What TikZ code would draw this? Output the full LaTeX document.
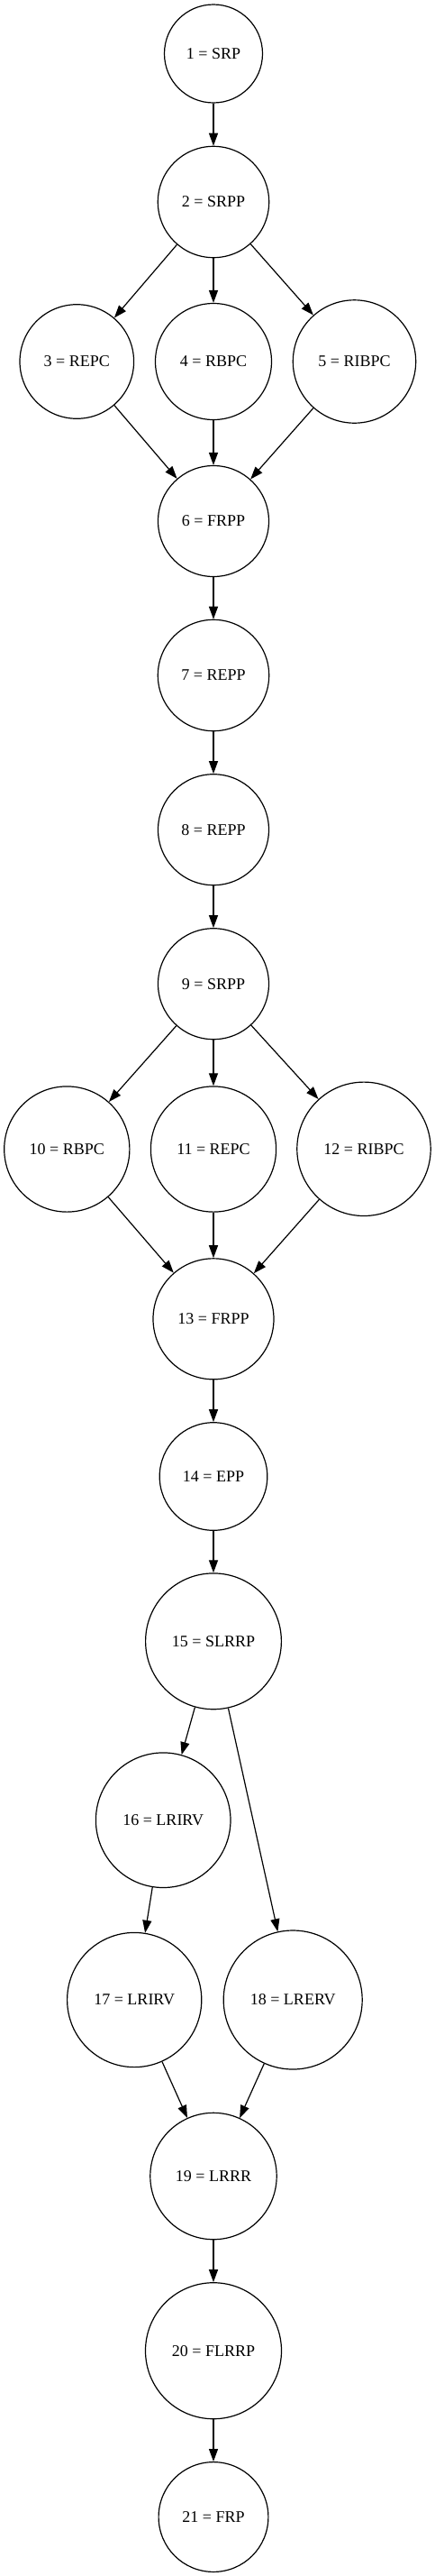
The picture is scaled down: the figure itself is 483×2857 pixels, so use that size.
\documentclass[tikz,border=0pt]{standalone}
\usepackage{fontspec}
\setmainfont{Liberation Serif}
\usetikzlibrary{arrows.meta}
\tikzset{
  nd/.style={circle, draw, line width=1.2bp, inner sep=0pt, font=\fontsize{18bp}{22bp}\selectfont},
  edge/.style={line width=1.2bp, -{Triangle[length=14bp,width=10bp]}}
}
\begin{document}
\begin{tikzpicture}[x=1bp,y=-1bp]
\useasboundingbox (0,0) rectangle (483,2857);
\node[nd, minimum size=109bp] (n1) at (237,59.5) {1 = SRP};
\node[nd, minimum size=123.4bp] (n2) at (237,224) {2 = SRPP};
\node[nd, minimum size=126.6bp] (n3) at (85.3,401) {3 = REPC};
\node[nd, minimum size=129bp] (n4) at (237,401) {4 = RBPC};
\node[nd, minimum size=136.4bp] (n5) at (393.5,401) {5 = RIBPC};
\node[nd, minimum size=123bp] (n6) at (237,578) {6 = FRPP};
\node[nd, minimum size=123.4bp] (n7) at (237,749) {7 = REPP};
\node[nd, minimum size=123bp] (n8) at (237,920.2) {8 = REPP};
\node[nd, minimum size=123bp] (n9) at (237,1091.2) {9 = SRPP};
\node[nd, minimum size=139.2bp] (n10) at (74.3,1274.5) {10 = RBPC};
\node[nd, minimum size=139.2bp] (n11) at (237,1274.5) {11 = REPC};
\node[nd, minimum size=148.4bp] (n12) at (404,1274.3) {12 = RIBPC};
\node[nd, minimum size=134bp] (n13) at (237,1462.8) {13 = FRPP};
\node[nd, minimum size=119.6bp] (n14) at (237,1637.5) {14 = EPP};
\node[nd, minimum size=150.8bp] (n15) at (237,1820.3) {15 = SLRRP};
\node[nd, minimum size=149.6bp] (n16) at (181.2,2018.7) {16 = LRIRV};
\node[nd, minimum size=149.2bp] (n17) at (149.2,2218) {17 = LRIRV};
\node[nd, minimum size=154bp] (n18) at (325.2,2218) {18 = LRERV};
\node[nd, minimum size=140.4bp] (n19) at (237,2413.5) {19 = LRRR};
\node[nd, minimum size=151bp] (n20) at (237,2607.2) {20 = FLRRP};
\node[nd, minimum size=121.8bp] (n21) at (237,2791.5) {21 = FRP};
\draw[edge] (n1) -- (n2);
\draw[edge] (n2) -- (n3);
\draw[edge] (n2) -- (n4);
\draw[edge] (n2) -- (n5);
\draw[edge] (n3) -- (n6);
\draw[edge] (n4) -- (n6);
\draw[edge] (n5) -- (n6);
\draw[edge] (n6) -- (n7);
\draw[edge] (n7) -- (n8);
\draw[edge] (n8) -- (n9);
\draw[edge] (n9) -- (n10);
\draw[edge] (n9) -- (n11);
\draw[edge] (n9) -- (n12);
\draw[edge] (n10) -- (n13);
\draw[edge] (n11) -- (n13);
\draw[edge] (n12) -- (n13);
\draw[edge] (n13) -- (n14);
\draw[edge] (n14) -- (n15);
\draw[edge] (n15) -- (n16);
\draw[edge] (n15) -- (n18);
\draw[edge] (n16) -- (n17);
\draw[edge] (n17) -- (n19);
\draw[edge] (n18) -- (n19);
\draw[edge] (n19) -- (n20);
\draw[edge] (n20) -- (n21);
\end{tikzpicture}
\end{document}
